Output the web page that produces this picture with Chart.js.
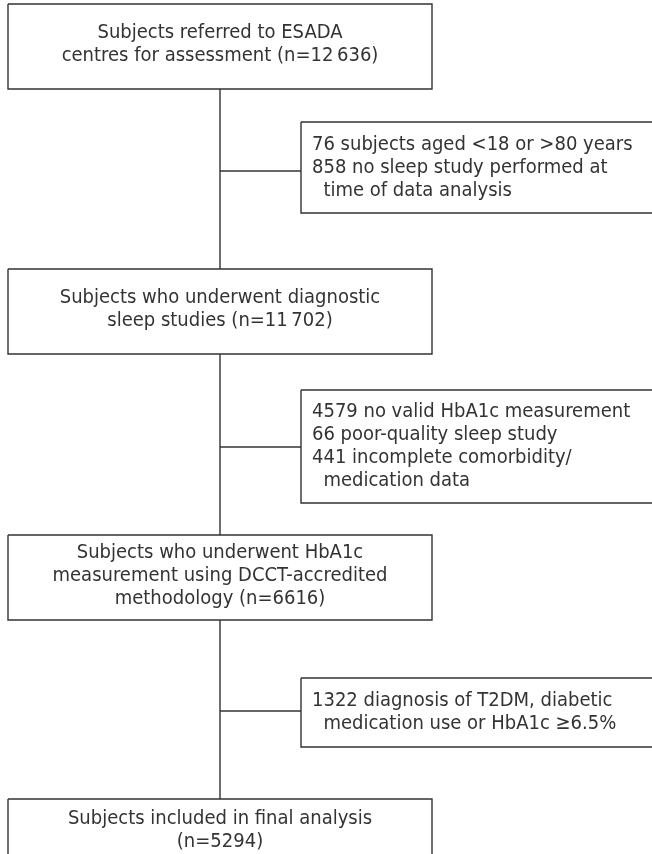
<!DOCTYPE html>
<html>
<head>
<meta charset="utf-8">
<script src="https://cdn.jsdelivr.net/npm/chart.js@4/dist/chart.umd.min.js"></script>
<style>
  html, body { margin: 0; padding: 0; background: #ffffff; }
  #wrap { width: 652px; height: 854px; position: relative; }
</style>
</head>
<body>
<div id="wrap"><canvas id="c"></canvas></div>
<script>
// ---- Data (flow stages and exclusions) ----
const stageText = [
  ["Subjects referred to ESADA", "centres for assessment (n=12\u2009636)"],
  ["Subjects who underwent diagnostic", "sleep studies (n=11\u2009702)"],
  ["Subjects who underwent HbA1c", "measurement using DCCT-accredited", "methodology (n=6616)"],
  ["Subjects included in final analysis", "(n=5294)"]
];
const stageCounts = [12636, 11702, 6616, 5294];
const exclusionText = [
  ["76 subjects aged <18 or >80 years", "858 no sleep study performed at", "  time of data analysis"],
  ["4579 no valid HbA1c measurement", "66 poor-quality sleep study", "441 incomplete comorbidity/", "  medication data"],
  ["1322 diagnosis of T2DM, diabetic", "  medication use or HbA1c \u22656.5%"]
];
const exclusionCounts = [[76, 858], [4579, 66, 441], [1322]];

// ---- Layout (in axis units of the hidden linear scales) ----
const mainX = [8, 432];
const mainY = [[4, 89], [269, 354], [535, 620], [799, 900]];
const sideX = [301, 670];
const sideY = [[122, 213], [390, 503], [678, 747]];
const linkY = [171, 447, 711];
const spineX = 220;
const lineH = 23;

const ink = '#333333';
const FONT = '"DejaVu Sans Condensed", "Liberation Sans Narrow", Roboto, "DejaVu Sans", sans-serif';

function rectPts(x0, x1, y0, y1) {
  return [{x:x0,y:y0},{x:x1,y:y0},{x:x1,y:y1},{x:x0,y:y1},{x:x0,y:y0}];
}
const datasets = [];
mainY.forEach(r => datasets.push({ data: rectPts(mainX[0], mainX[1], r[0], r[1]) }));
sideY.forEach(r => datasets.push({ data: rectPts(sideX[0], sideX[1], r[0], r[1]) }));
for (let i = 0; i < mainY.length - 1; i++) {
  datasets.push({ data: [{x:spineX, y:mainY[i][1]}, {x:spineX, y:mainY[i+1][0]}] });
}
linkY.forEach(y => datasets.push({ data: [{x:spineX, y:y}, {x:sideX[0], y:y}] }));
datasets.forEach(d => Object.assign(d, {
  showLine: true, borderColor: ink, borderWidth: 1.4, pointRadius: 0,
  pointHoverRadius: 0, fill: false, tension: 0, borderJoinStyle: 'miter', borderCapStyle: 'butt'
}));

const textPlugin = {
  id: 'flowText',
  afterDatasetsDraw(chart) {
    const ctx = chart.ctx, xs = chart.scales.x, ys = chart.scales.y;
    ctx.save();
    ctx.fillStyle = ink;
    ctx.font = '20px ' + FONT;
    ctx.textBaseline = 'middle';
    // main boxes
    ctx.textAlign = 'center';
    stageText.forEach((lines, i) => {
      const top = mainY[i][0];
      const bot = i === 3 ? top + 66 : mainY[i][1];
      const cy = (top + bot) / 2 - 2;
      const y0 = cy - (lines.length - 1) * lineH / 2;
      lines.forEach((t, k) => {
        ctx.fillText(t, xs.getPixelForValue(spineX), ys.getPixelForValue(y0 + k * lineH));
      });
    });
    // side boxes
    ctx.textAlign = 'left';
    exclusionText.forEach((lines, i) => {
      const cy = (sideY[i][0] + sideY[i][1]) / 2;
      const y0 = cy - (lines.length - 1) * lineH / 2;
      lines.forEach((t, k) => {
        ctx.fillText(t, xs.getPixelForValue(312), ys.getPixelForValue(y0 + k * lineH));
      });
    });
    ctx.restore();
  }
};

new Chart(document.getElementById('c'), {
  type: 'scatter',
  data: { datasets },
  options: {
    responsive: true,
    maintainAspectRatio: false,
    animation: false,
    layout: { padding: 0 },
    plugins: { legend: { display: false }, tooltip: { enabled: false } },
    events: [],
    scales: {
      x: { type: 'linear', min: 0, max: 652, display: false },
      y: { type: 'linear', min: 0, max: 854, reverse: true, display: false }
    }
  },
  plugins: [textPlugin]
});
</script>
</body>
</html>
